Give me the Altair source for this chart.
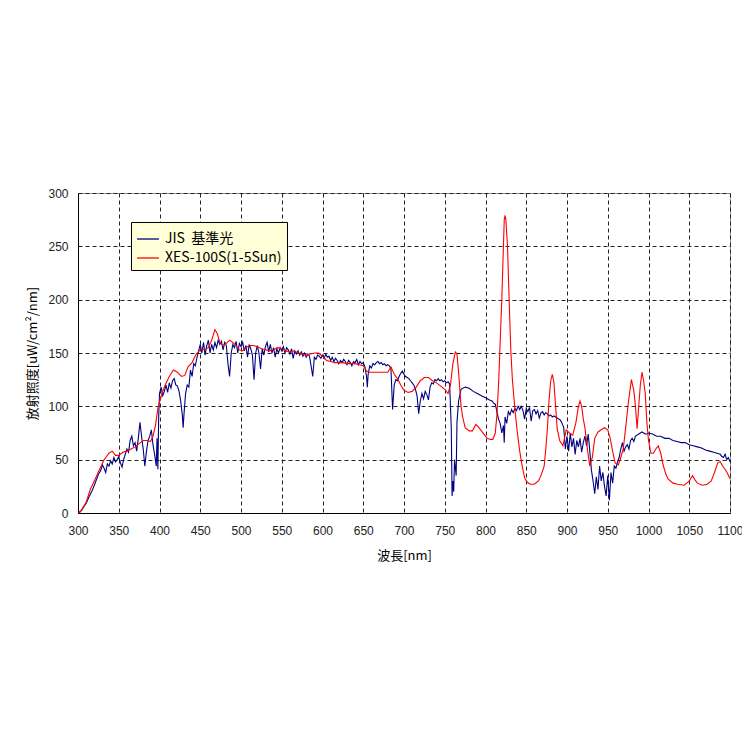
import altair as alt
import pandas as pd

# JIS reference spectrum (wavelength nm, irradiance uW/cm2/nm)
jis_wl = [300,303,306,310,314,318,322,325,328,330,332,334,336,338,340,342,344,346,348,350,
          352,354,356,358,360,362,364,366,368,370,372,374,376,378,380,382,384,386,388,390,
          392,394,396,397,398,399,400,402,404,406,408,410,412,414,416,418,420,422,424,426,
          428,429,430,432,434,436,438,440,442,444,446,448,450,452,454,456,458,460,462,464,
          466,468,470,472,474,476,478,480,482,484,486,488,490,492,494,496,498,500,502,504,
          506,508,510,512,514,516,518,520,522,524,526,528,530,532,534,536,538,540,542,544,
          546,548,550,552,554,556,558,560,562,564,566,568,570,572,574,576,578,580,582,584,
          586,588,590,592,594,596,598,600,602,604,606,608,610,612,614,616,618,620,622,624,
          626,628,630,632,634,636,638,640,642,644,646,648,650,652,654,655,656,658,660,662,
          664,666,668,670,672,674,676,678,680,682,684,686,688,690,692,694,696,698,700,702,
          704,706,708,710,712,714,716,718,720,722,724,726,728,730,732,734,736,738,740,742,
          744,746,748,750,752,754,756,758,759,760,761,762,764,765,767,770,775,780,785,790,
          795,800,805,808,810,812,814,816,818,820,822,823,824,826,828,830,832,834,836,838,
          840,842,844,846,848,850,852,854,856,858,860,862,864,866,868,870,872,874,876,878,
          880,882,884,886,888,890,892,894,896,898,900,902,904,906,908,910,912,914,916,918,
          920,922,924,926,928,930,932,934,936,938,940,942,944,946,948,950,952,954,956,958,
          960,962,964,966,968,970,972,974,976,978,980,982,984,986,988,990,992,994,996,998,
          1000,1005,1010,1015,1020,1025,1030,1035,1040,1045,1050,1055,1060,1065,1070,1075,
          1080,1084,1088,1090,1092,1094,1096,1098,1100]
jis_val = [0,1,5,9,16,22,30,36,40,45,42,38,46,44,49,46,52,48,50,53,
           47,43,50,55,60,57,68,72,63,66,58,70,85,72,60,44,58,68,72,78,
           64,55,44,70,41,90,112,118,110,114,120,113,122,117,124,126,120,119,114,105,
           92,80,92,112,120,118,134,128,140,138,146,152,158,150,160,148,157,162,150,158,
           153,160,155,162,158,161,153,160,157,140,128,150,158,155,161,150,159,156,160,152,
           157,146,158,154,148,125,150,157,150,135,154,148,156,160,151,158,150,155,146,154,
           150,155,152,156,150,155,153,149,154,145,152,149,152,148,151,147,150,146,149,147,
           138,128,146,144,148,147,145,148,145,149,146,147,143,146,142,145,143,140,143,141,
           144,142,139,143,141,138,142,141,144,139,142,140,141,137,128,118,130,138,136,140,
           139,141,142,140,141,139,140,138,139,138,135,97,120,125,124,128,131,133,130,128,
           127,126,124,122,120,116,110,93,105,112,107,114,111,106,118,122,121,125,124,126,
           124,125,123,124,122,123,121,80,16,30,20,50,35,85,105,116,118,117,114,112,
           110,108,106,105,103,102,95,88,84,75,82,66,90,84,95,92,97,94,98,96,
           100,97,100,96,88,98,95,99,86,96,97,93,96,89,94,95,92,94,93,91,
           92,90,91,90,89,88,87,84,80,60,72,58,75,62,70,55,68,62,70,57,
           66,72,63,74,58,40,30,18,34,22,44,30,38,25,16,35,12,38,28,44,
           42,48,52,60,66,58,62,64,60,68,70,67,72,73,74,75,76,75,74,74,
           75,74,72,72,70,70,68,67,66,66,64,63,62,61,59,58,
           57,56,55,53,52,55,50,52,48]

# XES-100S (1-5Sun) simulator spectrum
xes_wl = [300,305,310,315,320,326,332,338,342,346,350,355,360,365,370,375,380,385,389,392,
          395,398,400,403,407,412,417,422,427,431,435,440,445,450,455,460,464,468,471,474,
          478,482,486,490,494,498,502,506,510,515,520,525,530,535,540,545,550,555,560,565,
          570,575,580,585,590,595,600,605,610,615,620,625,630,635,640,645,650,654,658,665,
          672,680,684,688,692,696,700,705,710,715,720,725,730,735,740,745,750,754,757,760,
          763,765,767,770,772,775,780,784,788,791,794,798,802,806,809,812,814,816,818,820,
          822,823,824,825,827,829,831,833,835,837,839,842,845,848,851,855,860,865,868,872,
          874,876,878,880,882,884,886,888,891,895,899,903,907,911,914,916,918,920,922,925,
          928,931,934,938,942,946,950,953,956,959,963,966,969,972,975,979,982,984,986,988,
          990,992,994,996,998,1000,1003,1006,1009,1012,1015,1018,1021,1024,1030,1036,1044,1050,1054,1057,
          1060,1066,1072,1077,1081,1085,1088,1091,1094,1097,1100]
xes_val = [0,3,10,22,30,40,50,56,58,54,54,57,58,60,62,65,68,68,67,72,
           82,98,104,112,120,128,134,132,128,129,137,141,149,153,153,155,162,172,168,160,
           157,159,162,160,157,153,152,155,157,157,156,154,153,152,153,155,154,152,151,152,
           150,149,148,149,150,150,147,143,142,141,141,141,140,140,140,139,138,133,132,132,
           132,132,137,130,126,120,115,113,114,118,124,127,127,124,122,119,116,112,120,140,
           151,149,132,100,90,80,77,77,83,81,78,74,70,69,69,75,92,120,160,200,
           250,275,279,275,250,200,153,125,107,90,76,58,44,33,29,27,27,30,35,44,
           60,80,106,124,130,122,100,79,68,63,78,75,73,85,100,105,100,88,80,60,
           44,52,70,76,78,80,78,70,58,47,45,52,60,80,102,125,115,100,79,100,
           120,132,124,112,85,68,56,56,60,63,56,45,37,32,28,27,26,30,35,31,
           28,26,27,30,38,47,48,44,41,37,32]

x_ticks = list(range(300, 1101, 50))
y_ticks = list(range(0, 301, 50))

name_jis = "JIS\u00a0\u00a0基準光"
name_xes = "XES-100S(1-5Sun)"

df = pd.concat([
    pd.DataFrame({"wl": jis_wl, "val": jis_val, "series": name_jis, "order": 0}),
    pd.DataFrame({"wl": xes_wl, "val": xes_val, "series": name_xes, "order": 1}),
])

font = "Liberation Sans, Noto Sans CJK JP"

chart = alt.Chart(df).mark_line(strokeWidth=1.1, clip=True).encode(
    x=alt.X("wl:Q",
            scale=alt.Scale(domain=[300, 1100], nice=False, zero=False),
            axis=alt.Axis(title="波長[nm]", values=x_ticks, format="d",
                          labelFlush=False, labelOverlap=False,
                          titleFont="Noto Sans CJK JP", titleFontSize=13,
                          titleFontWeight="normal", titlePadding=13)),
    y=alt.Y("val:Q",
            scale=alt.Scale(domain=[0, 300], nice=False),
            axis=alt.Axis(title="放射照度[uW/cm²/nm]", values=y_ticks, format="d",
                          labelFlush=False, labelOverlap=False,
                          titleFont="Noto Sans CJK JP", titleFontSize=13,
                          titleFontWeight="normal", titlePadding=8)),
    color=alt.Color("series:N",
                    scale=alt.Scale(domain=[name_jis, name_xes], range=["#000080", "#FF0000"]),
                    legend=alt.Legend(title=None, orient="none", legendX=53, legendY=29,
                                      fillColor="#FFFFD8", strokeColor="#000000",
                                      padding=5, rowPadding=0,
                                      symbolType="stroke", symbolSize=480,
                                      symbolStrokeWidth=1.3,
                                      labelFont="Noto Sans CJK JP", labelFontSize=14,
                                      labelColor="#000000", labelOffset=5)),
    detail="series:N",
    order=alt.Order("order:Q"),
).properties(
    width=652, height=320,
    padding={"left": 70, "top": 185, "right": 12, "bottom": 200},
    autosize=alt.AutoSizeParams(type="none"),
).configure_axis(
    grid=True, gridColor="#222222", gridDash=[4, 3], gridWidth=1,
    domainColor="#000000", domainWidth=1, ticks=False,
    labelFont=font, labelFontSize=12, labelColor="#222222",
    titleColor="#000000",
).configure_axisX(labelPadding=12).configure_axisY(labelPadding=10).configure_view(
    stroke="#999999", strokeWidth=1
)

chart.save("out.html", embed_options={"renderer": "svg", "actions": False})
